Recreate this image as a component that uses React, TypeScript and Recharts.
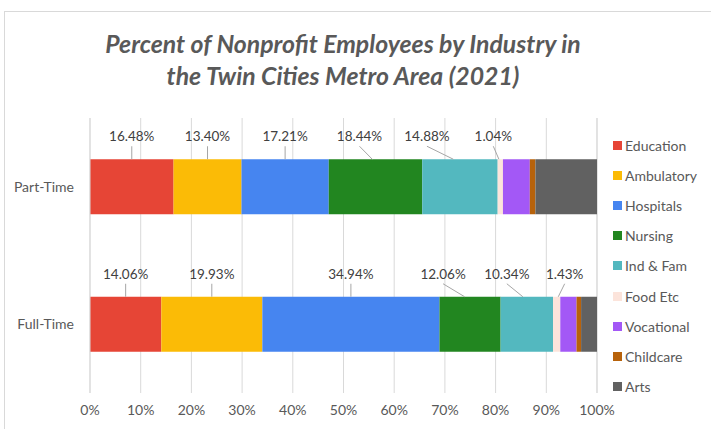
import { BarChart, Bar, XAxis, YAxis, CartesianGrid, LabelList } from "recharts";

const categories = ["Part-Time", "Full-Time"];
const industries = ["Education", "Ambulatory", "Hospitals", "Nursing", "Ind & Fam", "Food Etc", "Vocational", "Childcare", "Arts"];
const partTime = [16.48, 13.4, 17.21, 18.44, 14.88, 1.04, 5.3, 1.1, 12.15];
const fullTime = [14.06, 19.93, 34.94, 12.06, 10.34, 1.43, 3.2, 0.9, 3.14];
const xTicks = [0, 10, 20, 30, 40, 50, 60, 70, 80, 90, 100];
// only these series carry data labels
const labelled = ["Education", "Ambulatory", "Hospitals", "Nursing", "Ind & Fam", "Food Etc"];

const colors = ["#E64536", "#FBBB06", "#4685F0", "#228620", "#53B8BF", "#FCE4DB", "#A358F6", "#B7620B", "#616161"];

// horizontal nudge of each label away from its segment (px)
const labelShift: Record<string, number[]> = {
  "Part-Time": [0, 0, 0, -16, -33, -7],
  "Full-Time": [0, 0, 0, -27, -20, 8],
};

const rows = [partTime, fullTime];
const data = categories.map((c, i) => {
  const row: any = { name: c };
  industries.forEach((k, j) => (row[k] = rows[i][j]));
  return row;
});

const FONT = "Lato, 'Noto Sans', sans-serif";
const GREY = "#595959";

const makeLabel = (seriesIdx: number) => (props: any) => {
  const { x, y, width, value, index } = props;
  const cat = categories[index];
  const dx = labelShift[cat][seriesIdx];
  const cx = x + width / 2;
  const tx = cx + dx;
  return (
    <g>
      <line x1={tx} y1={y - 13} x2={cx + dx * 0.2} y2={y} stroke="#a6a6a6" strokeWidth={1} />
      <text x={tx} y={y - 23} textAnchor="middle" dominantBaseline="central" fontSize={13.5} fontFamily={FONT} fill="#404040">
        {Number(value).toFixed(2)}%
      </text>
    </g>
  );
};

const LegendBox = () => (
  <div style={{ position: "absolute", left: 613, top: 130, fontFamily: FONT, fontSize: 14, color: GREY }}>
    {industries.map((k, i) => (
      <div key={k} style={{ display: "flex", alignItems: "center", height: 30.2 }}>
        <span style={{ width: 9, height: 9, background: colors[i], marginRight: 3, display: "inline-block" }} />
        {k}
      </div>
    ))}
  </div>
);

export default function App() {
  return (
    <div style={{ position: "absolute", left: 0, top: 0, width: 711, height: 429, background: "#fff", overflow: "hidden" }}>
      <div style={{ position: "absolute", left: 4, top: 11, width: 720, height: 430, border: "1px solid #d9d9d9" }} />
      <div
        style={{
          position: "absolute", left: 0, width: 686, top: 28, textAlign: "center", fontFamily: FONT,
          fontWeight: 700, fontStyle: "italic", fontSize: 24.8, lineHeight: "32px", color: GREY,
        }}
      >
        Percent of Nonprofit Employees by Industry in
        <br />
        the Twin Cities Metro Area (2021)
      </div>
      <BarChart
        width={711}
        height={429}
        data={data}
        layout="vertical"
        margin={{ top: 118, right: 114, bottom: 6, left: 0 }}
        barCategoryGap="30%"
      >
        <CartesianGrid horizontal={false} stroke="#d9d9d9" />
        <XAxis
          type="number"
          domain={[0, 100]}
          ticks={xTicks}
          tickFormatter={(v) => `${v}%`}
          axisLine={false}
          tickLine={false}
          tickMargin={6}
          height={30}
          interval={0}
          tick={{ fontSize: 14, fontFamily: FONT, fill: GREY }}
        />
        <YAxis
          type="category"
          dataKey="name"
          width={90}
          axisLine={{ stroke: "#d9d9d9" }}
          tickLine={false}
          tickMargin={10}
          tick={{ fontSize: 14, fontFamily: FONT, fill: GREY }}
        />
        {industries.map((k, i) => (
          <Bar key={k} dataKey={k} stackId="a" fill={colors[i]} isAnimationActive={false}>
            {labelled.includes(k) && <LabelList dataKey={k} content={makeLabel(i)} />}
          </Bar>
        ))}
      </BarChart>
      <LegendBox />
    </div>
  );
}
